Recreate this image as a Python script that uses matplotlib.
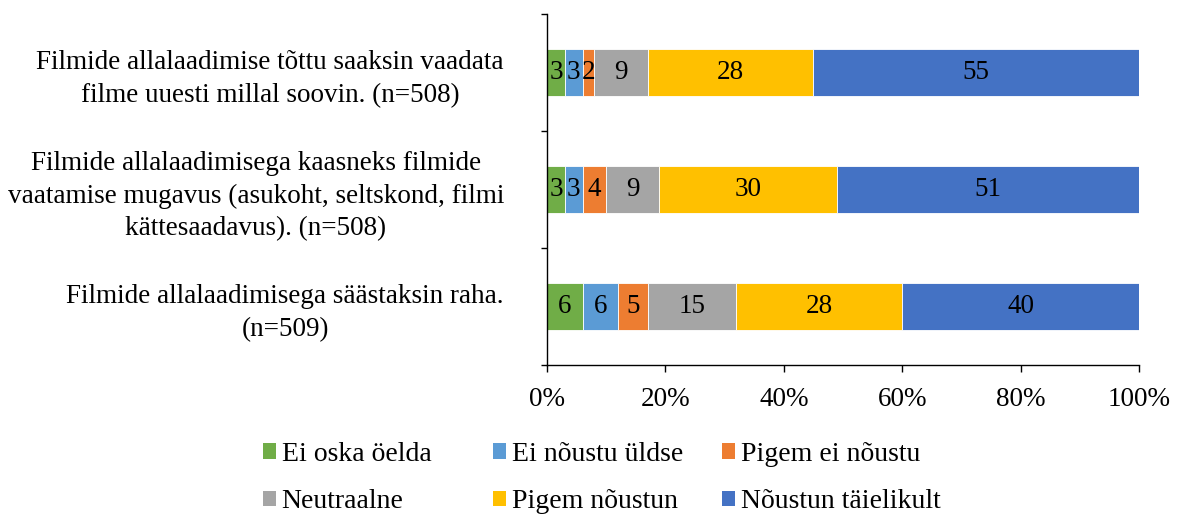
import matplotlib
matplotlib.use("Agg")
import matplotlib.pyplot as plt
from matplotlib.patches import Patch
import numpy as np

plt.rcParams['font.family'] = ['Liberation Serif', 'DejaVu Serif']

categories = [
    "Filmide allalaadimisega säästaksin raha.\n(n=509)",
    "Filmide allalaadimisega kaasneks filmide\nvaatamise mugavus (asukoht, seltskond, filmi\nkättesaadavus). (n=508)",
    "Filmide allalaadimise tõttu saaksin vaadata\nfilme uuesti millal soovin. (n=508)",
]
series_names = ["Ei oska öelda", "Ei nõustu üldse", "Pigem ei nõustu",
                "Neutraalne", "Pigem nõustun", "Nõustun täielikult"]
ei_oska = [6, 3, 3]
ei_noustu = [6, 3, 3]
pigem_ei = [5, 4, 2]
neutraalne = [15, 9, 9]
pigem_noustun = [28, 30, 28]
taielikult = [40, 51, 55]
series_values = [ei_oska, ei_noustu, pigem_ei, neutraalne, pigem_noustun, taielikult]
colors = ["#70AD47", "#5B9BD5", "#ED7D31", "#A5A5A5", "#FFC000", "#4472C4"]
xticks = [0, 20, 40, 60, 80, 100]
xtick_labels = ["0%", "20%", "40%", "60%", "80%", "100%"]

FS = 19.5
LFS = 20

fig = plt.figure(figsize=(11.77, 5.16), dpi=100)
ax = fig.add_axes([547/1177, 1-365/516, (1139-547)/1177, (365-14)/516])

y = np.arange(len(categories))
left = np.zeros(len(categories))
handles = []
for name, vals, col in zip(series_names, series_values, colors):
    vals = np.array(vals, dtype=float)
    ax.barh(y, vals, left=left, height=0.4, color=col,
            edgecolor='white', linewidth=0.6, label=name)
    for yi, (l, v) in enumerate(zip(left, vals)):
        ax.text(l + v/2, yi, f"{int(v)}", ha='center', va='center',
                fontsize=FS, color='black')
    left += vals
    handles.append(Patch(facecolor=col, edgecolor='none'))

ax.set_xlim(0, 100)
ax.set_ylim(-0.5, len(categories) - 0.5)
ax.set_xticks(xticks)
ax.set_xticklabels(xtick_labels, fontsize=FS)
ax.set_yticks(y)
ax.set_yticklabels(categories, fontsize=FS, multialignment='center', linespacing=1.38)
ax.set_yticks(np.arange(-0.5, len(categories), 1.0), minor=True)
ax.tick_params(axis='y', which='major', length=0, pad=31)
ax.tick_params(axis='y', which='minor', length=4, width=1, direction='out')
ax.tick_params(axis='x', which='major', length=5, width=1, direction='out', pad=11)
for s in ['top', 'right']:
    ax.spines[s].set_visible(False)
for s in ['left', 'bottom']:
    ax.spines[s].set_linewidth(1.0)
    ax.spines[s].set_color('black')

# Legend: three columns of two entries each, with even column spacing
col_x = [263, 493, 722]
for c in range(3):
    idx = [c, c + 3]
    fig.legend([handles[i] for i in idx], [series_names[i] for i in idx],
               loc='upper left', bbox_to_anchor=(col_x[c]/1177, 1-442/516),
               frameon=False, fontsize=LFS, handlelength=0.47, handleheight=0.47,
               handletextpad=0.2, labelspacing=0.8, borderpad=0, borderaxespad=0)

fig.savefig("out.png", dpi=100)
